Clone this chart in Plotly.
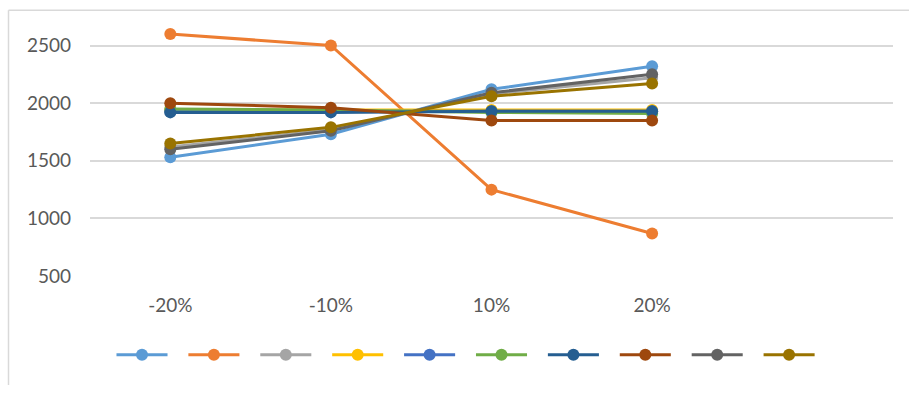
import plotly.graph_objects as go

# Scenario change applied to the input, and the resulting value for each of ten series
categories = ["-20%", "-10%", "10%", "20%"]

s1 = [1530, 1730, 2120, 2320]
s2 = [2600, 2500, 1250, 870]
s3 = [1620, 1770, 2080, 2220]
s4 = [1940, 1940, 1940, 1940]
s5 = [1930, 1930, 1930, 1930]
s6 = [1950, 1940, 1920, 1910]
s7 = [1920, 1920, 1930, 1930]
s8 = [2000, 1960, 1850, 1850]
s9 = [1600, 1760, 2090, 2250]
s10 = [1650, 1790, 2060, 2170]

series = [s1, s2, s3, s4, s5, s6, s7, s8, s9, s10]
colors = ["#5B9BD5", "#ED7D31", "#A5A5A5", "#FFC000", "#4472C4",
          "#70AD47", "#255E91", "#9E480E", "#636363", "#997300"]

W, H = 909, 396
FONT = "Lato, 'Open Sans', sans-serif"
GRID = "#D9D9D9"
TXT = "#595959"
FS = 19

fig = go.Figure()

for vals, col in zip(series, colors):
    fig.add_trace(go.Scatter(
        x=categories, y=vals, mode="lines+markers",
        line=dict(color=col, width=3),
        marker=dict(color=col, size=12),
        showlegend=False, hoverinfo="skip",
        xaxis="x", yaxis="y",
    ))

# Legend strip: one short line with a centred marker per series
half = 0.355
for i, col in enumerate(colors):
    fig.add_trace(go.Scatter(
        x=[i - half, i, i + half], y=[0, 0, 0], mode="lines",
        line=dict(color=col, width=3),
        showlegend=False, hoverinfo="skip", xaxis="x2", yaxis="y2",
    ))
    fig.add_trace(go.Scatter(
        x=[i], y=[0], mode="markers",
        marker=dict(color=col, size=12),
        showlegend=False, hoverinfo="skip", xaxis="x2", yaxis="y2",
    ))

x0_px, x1_px = 90, 893
y_bottom_px, y_top_px = 284, 10
px_per_unit = 59.3 / 500
y_max = 500 + (y_bottom_px - y_top_px) / px_per_unit

leg_c0, leg_step = 142, 71.9
leg_y_px = 365

fig.update_layout(
    width=W, height=H,
    margin=dict(l=0, r=0, t=0, b=0),
    paper_bgcolor="white", plot_bgcolor="white",
    font=dict(family=FONT, size=FS, color=TXT),
    xaxis=dict(
        type="category", categoryarray=categories,
        range=[-0.5, 4.5],
        domain=[x0_px / W, x1_px / W],
        showgrid=False, zeroline=False, showline=False,
        ticks="", ticklabelstandoff=16,
        tickfont=dict(family=FONT, size=FS, color=TXT),
        anchor="y",
    ),
    yaxis=dict(
        range=[500, y_max],
        domain=[(H - y_bottom_px) / H, (H - y_top_px) / H],
        tick0=500, dtick=500,
        showgrid=True, gridcolor=GRID, gridwidth=1.5,
        zeroline=False, showline=False,
        ticks="", ticklabelstandoff=18,
        tickfont=dict(family=FONT, size=FS, color=TXT),
        anchor="x",
    ),
    xaxis2=dict(
        range=[(0 - leg_c0) / leg_step, (W - leg_c0) / leg_step],
        domain=[0, 1], visible=False, anchor="y2",
    ),
    yaxis2=dict(
        range=[-1, 1],
        domain=[(H - leg_y_px - 15) / H, (H - leg_y_px + 15) / H],
        visible=False, anchor="x2",
    ),
    shapes=[
        # chart frame edges (top and left)
        dict(type="line", xref="paper", yref="paper",
             x0=8.5 / W, x1=1, y0=(H - 10.5) / H, y1=(H - 10.5) / H,
             line=dict(color=GRID, width=1.5)),
        dict(type="line", xref="paper", yref="paper",
             x0=8.5 / W, x1=8.5 / W, y0=0, y1=(H - 10.5) / H,
             line=dict(color=GRID, width=1.5)),
    ],
)

fig.write_html("out.html")
